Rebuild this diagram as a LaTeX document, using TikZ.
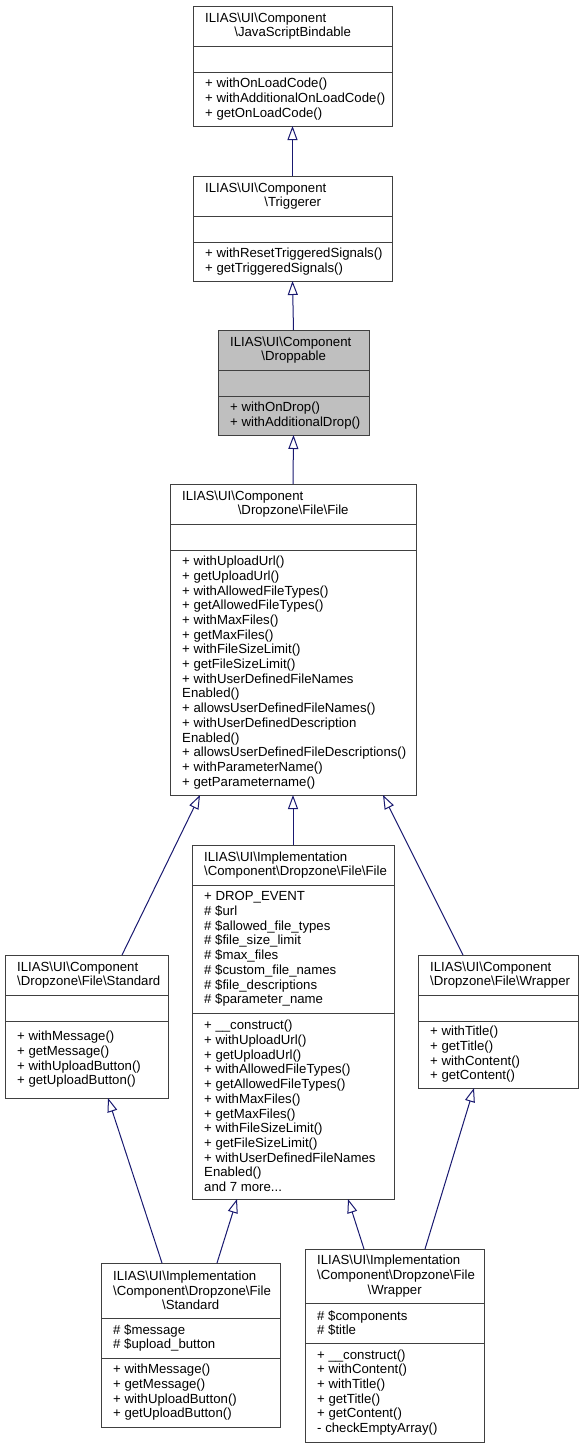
\documentclass[tikz,border=0pt]{standalone}
\usepackage{fontspec}
\setmainfont{Liberation Sans}
\usetikzlibrary{arrows.meta}
\definecolor{edgeblue}{HTML}{191970}
\definecolor{boxline}{HTML}{404040}
\definecolor{curfill}{HTML}{BFBFBF}
\newcommand{\bsl}{\textbackslash}

\begin{document}
\begin{tikzpicture}[x=1pt,y=-1pt,
    classbox/.style={draw=boxline,line width=1pt,anchor=north west,inner sep=0pt,outer sep=0pt},
    member/.style={font=\fontsize{13.2}{14.7}\selectfont,inner sep=0pt,align=left,anchor=west},
    inherit/.style={draw=edgeblue,line width=1pt,-{Triangle[open,length=14pt,width=10pt]}}]

          \useasboundingbox (0,0) rectangle (584,1448);

          % class boxes
          \node[classbox,minimum width=199,minimum height=120] (jsb) at (193,6) {};
          \node[classbox,minimum width=199,minimum height=105] (trig) at (193,176) {};
          \node[classbox,fill=curfill,minimum width=151,minimum height=105] (drop) at (218,330) {};
          \node[classbox,minimum width=246,minimum height=311] (file) at (170,484) {};
          \node[classbox,minimum width=163,minimum height=143] (std) at (5,955) {};
          \node[classbox,minimum width=202,minimum height=354] (implfile) at (192,845) {};
          \node[classbox,minimum width=160,minimum height=133] (wrap) at (418,955) {};
          \node[classbox,minimum width=179,minimum height=164] (implstd) at (101,1263) {};
          \node[classbox,minimum width=179,minimum height=193] (implwrap) at (305,1249) {};

          % compartment lines
          \foreach \n/\a/\b in {jsb/40/66,trig/40/66,drop/40/66,file/40/66,std/40/66,
                                implfile/40/168,wrap/40/66,implstd/55/95,implwrap/54/94}
            \draw[draw=boxline,line width=1pt] ([yshift=-\a]\n.north west) -- ([yshift=-\a]\n.north east)
                                               ([yshift=-\b]\n.north west) -- ([yshift=-\b]\n.north east);

          % JavaScriptBindable
          \node[member] (jsb-name) at ([xshift=12,yshift=-20]jsb.north west)
                {ILIAS\bsl UI\bsl Component\\\makebox[175pt][c]{\bsl JavaScriptBindable}};
          \node[member] (jsb-ops) at ([xshift=12,yshift=-93]jsb.north west)
                {+ withOnLoadCode()\\+ withAdditionalOnLoadCode()\\+ getOnLoadCode()};

          % Triggerer
          \node[member] (trig-name) at ([xshift=12,yshift=-20]trig.north west)
                {ILIAS\bsl UI\bsl Component\\\makebox[175pt][c]{\bsl Triggerer}};
          \node[member] (trig-ops) at ([xshift=12,yshift=-85.5]trig.north west)
                {+ withResetTriggeredSignals()\\+ getTriggeredSignals()};

          % Droppable
          \node[member] (drop-name) at ([xshift=12,yshift=-20]drop.north west)
                {ILIAS\bsl UI\bsl Component\\\makebox[127pt][c]{\bsl Droppable}};
          \node[member] (drop-ops) at ([xshift=12,yshift=-85.5]drop.north west)
                {+ withOnDrop()\\+ withAdditionalDrop()};

          % Component File
          \node[member] (file-name) at ([xshift=12,yshift=-20]file.north west)
                {ILIAS\bsl UI\bsl Component\\\makebox[222pt][c]{\bsl Dropzone\bsl File\bsl File}};
          \node[member] (file-ops) at ([xshift=12,yshift=-188.5]file.north west)
                {+ withUploadUrl()\\+ getUploadUrl()\\+ withAllowedFileTypes()\\+ getAllowedFileTypes()\\
                 + withMaxFiles()\\+ getMaxFiles()\\+ withFileSizeLimit()\\+ getFileSizeLimit()\\
                 + withUserDefinedFileNames\\Enabled()\\+ allowsUserDefinedFileNames()\\
                 + withUserDefinedDescription\\Enabled()\\+ allowsUserDefinedFileDescriptions()\\
                 + withParameterName()\\+ getParametername()};

          % Implementation File
          \node[member] (implfile-name) at ([xshift=12,yshift=-20]implfile.north west)
                {ILIAS\bsl UI\bsl Implementation\\\bsl Component\bsl Dropzone\bsl File\bsl File};
          \node[member] (implfile-attr) at ([xshift=12,yshift=-104]implfile.north west)
                {+ DROP\_EVENT\\\# \$url\\\# \$allowed\_file\_types\\\# \$file\_size\_limit\\
                 \# \$max\_files\\\# \$custom\_file\_names\\\# \$file\_descriptions\\\# \$parameter\_name};
          \node[member] (implfile-ops) at ([xshift=12,yshift=-261]implfile.north west)
                {+ \_\_construct()\\+ withUploadUrl()\\+ getUploadUrl()\\+ withAllowedFileTypes()\\
                 + getAllowedFileTypes()\\+ withMaxFiles()\\+ getMaxFiles()\\+ withFileSizeLimit()\\
                 + getFileSizeLimit()\\+ withUserDefinedFileNames\\Enabled()\\and 7 more...};

          % Component Standard
          \node[member] (std-name) at ([xshift=12,yshift=-20]std.north west)
                {ILIAS\bsl UI\bsl Component\\\bsl Dropzone\bsl File\bsl Standard};
          \node[member] (std-ops) at ([xshift=12,yshift=-104.5]std.north west)
                {+ withMessage()\\+ getMessage()\\+ withUploadButton()\\+ getUploadButton()};

          % Component Wrapper
          \node[member] (wrap-name) at ([xshift=12,yshift=-20]wrap.north west)
                {ILIAS\bsl UI\bsl Component\\\bsl Dropzone\bsl File\bsl Wrapper};
          \node[member] (wrap-ops) at ([xshift=12,yshift=-99.5]wrap.north west)
                {+ withTitle()\\+ getTitle()\\+ withContent()\\+ getContent()};

          % Implementation Standard
          \node[member] (implstd-name) at ([xshift=12,yshift=-27.5]implstd.north west)
                {ILIAS\bsl UI\bsl Implementation\\\bsl Component\bsl Dropzone\bsl File\\
                 \makebox[155pt][c]{\bsl Standard}};
          \node[member] (implstd-attr) at ([xshift=12,yshift=-75]implstd.north west)
                {\# \$message\\\# \$upload\_button};
          \node[member] (implstd-ops) at ([xshift=12,yshift=-129.5]implstd.north west)
                {+ withMessage()\\+ getMessage()\\+ withUploadButton()\\+ getUploadButton()};

          % Implementation Wrapper
          \node[member] (implwrap-name) at ([xshift=12,yshift=-27]implwrap.north west)
                {ILIAS\bsl UI\bsl Implementation\\\bsl Component\bsl Dropzone\bsl File\\
                 \makebox[155pt][c]{\bsl Wrapper}};
          \node[member] (implwrap-attr) at ([xshift=12,yshift=-74]implwrap.north west)
                {\# \$components\\\# \$title};
          \node[member] (implwrap-ops) at ([xshift=12,yshift=-143.5]implwrap.north west)
                {+ \_\_construct()\\+ withContent()\\+ withTitle()\\+ getTitle()\\+ getContent()\\
                 - checkEmptyArray()};

          % inheritance
          \path (trig.north) edge[inherit] (jsb.south)
                (drop.north) edge[inherit] (trig.south)
                (file.north) edge[inherit] (drop.south)
                ([xshift=35.5]std.north) edge[inherit] ([xshift=-93]file.south)
                (implfile.north) edge[inherit] (file.south)
                ([xshift=-35]wrap.north) edge[inherit] ([xshift=90]file.south)
                ([xshift=-28.5]implstd.north) edge[inherit] ([xshift=21.5]std.south)
                ([xshift=26.5]implstd.north) edge[inherit] ([xshift=-56]implfile.south)
                ([xshift=-30.5]implwrap.north) edge[inherit] ([xshift=55]implfile.south)
                ([xshift=30.5]implwrap.north) edge[inherit] ([xshift=-24]wrap.south);
        \end{tikzpicture}
\end{document}
